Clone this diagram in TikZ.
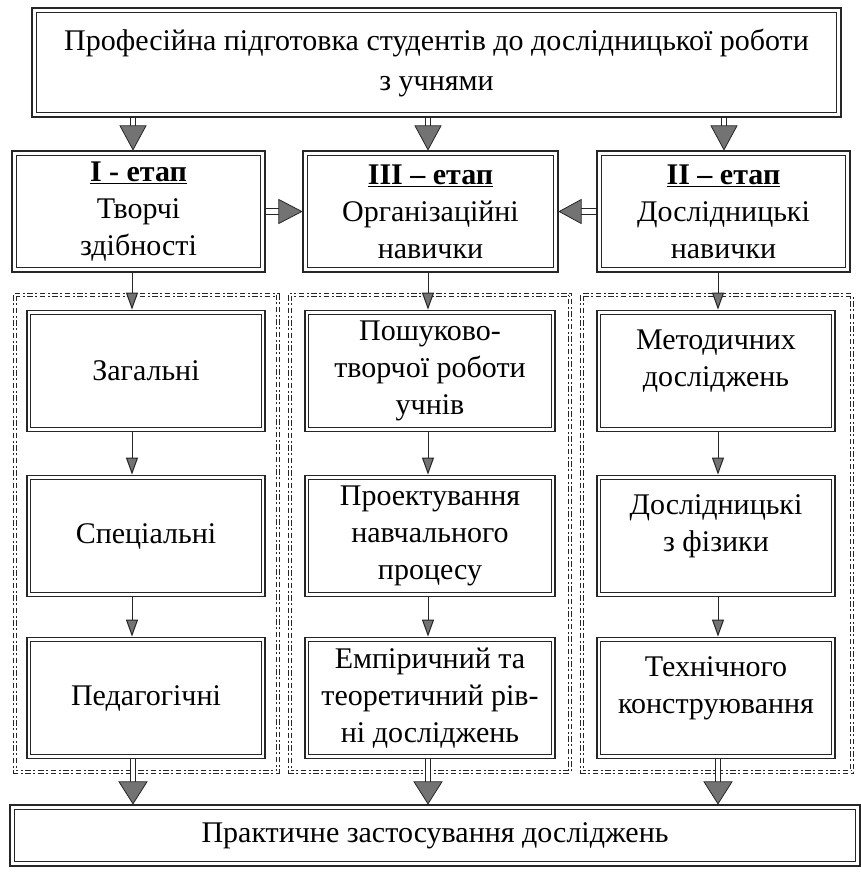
\documentclass[tikz,border=0pt]{standalone}
\usepackage{fontspec}
\setmainfont{Liberation Serif}
\usetikzlibrary{calc,arrows.meta}
\begin{document}
\begin{tikzpicture}[x=1pt,y=-1pt,
  txt/.style={font=\fontsize{30}{37}\selectfont, align=center, inner sep=0pt},
  bigbox/.style={txt, draw=black!85, line width=2.4pt},
  smallbox/.style={txt, draw=black!85, line width=1.8pt},
  innerline/.style={draw=black!85, line width=0.9pt},
  dashbox/.style={draw=black!85, line width=1.1pt, double=white, double distance=2pt,
    dash pattern=on 5.5pt off 2.5pt on 2pt off 2.5pt},
  shaft/.style={draw=black!85, line width=0.9pt, double=white, double distance=4.5pt},
  headfill/.style={fill=black!55, draw=black!85, line width=0.8pt, line join=miter},
  thinarrow/.style={draw=black!85, line width=1pt,
    -{Triangle[length=17pt,width=12pt,fill=black!55]}}
]
\useasboundingbox (0,0) rectangle (861,881);

% top box
\node[bigbox, minimum width=809pt, minimum height=109pt,
      font=\fontsize{30}{40}\selectfont] (top) at (436.5,62.5)
  {Професійна підготовка студентів до дослідницької роботи\\з учнями};

% stage boxes
\node[bigbox, minimum width=253pt, minimum height=121pt] (s1) at (138.5,211.5)
  {\underline{\textbf{I - етап}}\\Творчі\\здібності};
\node[bigbox, minimum width=255pt, minimum height=121pt] (s3) at (430.5,211.5)
  {\underline{\textbf{III – етап}}\\Організаційні\\навички};
\node[bigbox, minimum width=253pt, minimum height=121pt] (s2) at (723.5,211.5)
  {\underline{\textbf{II – етап}}\\Дослідницькі\\навички};

% dash-dot group frames
\draw[dashbox] (15,295) rectangle (278,772);
\draw[dashbox] (290,295) rectangle (570,772);
\draw[dashbox] (582,295) rectangle (852,772);

% inner boxes
\node[smallbox, minimum width=238pt, minimum height=121pt] (a1) at (146,371) {Загальні};
\node[smallbox, minimum width=238pt, minimum height=121pt] (a2) at (146,536) {Спеціальні};
\node[smallbox, minimum width=238pt, minimum height=121pt] (a3) at (146,698) {Педагогічні};
\node[smallbox, minimum width=250pt, minimum height=121pt] (b1) at (430,371) {Пошуково-\\творчої роботи\\учнів};
\node[smallbox, minimum width=250pt, minimum height=121pt] (b2) at (430,536) {Проектування\\навчального\\процесу};
\node[smallbox, minimum width=250pt, minimum height=121pt] (b3) at (430,698) {Емпіричний та\\теоретичний рів-\\ні досліджень};
\node[smallbox, minimum width=238pt, minimum height=121pt] (c1) at (716,371) {Методичних\\досліджень\\[-12pt]\mbox{}};
\node[smallbox, minimum width=238pt, minimum height=121pt] (c2) at (716,536) {Дослідницькі\\з фізики\\[-12pt]\mbox{}};
\node[smallbox, minimum width=238pt, minimum height=121pt] (c3) at (716,698) {Технічного\\конструювання\\[-12pt]\mbox{}};

% bottom box
\node[bigbox, minimum width=850pt, minimum height=61pt] (bot) at (435,835.5)
  {Практичне застосування досліджень};

% inner frame lines
\foreach \n in {top,s1,s2,s3,bot}
  \draw[innerline] ([shift={(5.5,5.5)}]\n.north west) rectangle ([shift={(-5.5,-5.5)}]\n.south east);
\foreach \n in {a1,a2,a3,b1,b2,b3,c1,c2,c3}
  \draw[innerline] ([shift={(4.5,4.5)}]\n.north west) rectangle ([shift={(-4.5,-4.5)}]\n.south east);

% x positions of arrows
\coordinate (xl) at (133,0);
\coordinate (xm) at (428,0);
\coordinate (xr) at (724,0);
\coordinate (xl2) at (132,0);
\coordinate (xr2) at (718,0);

% big down arrows from top box
\foreach \s/\x in {s1/xl,s3/xm,s2/xr}{
  \draw[shaft] (top.south -| \x) -- ($(\s.north -| \x)+(0,-22)$);
  \draw[headfill] (\s.north -| \x) -- ++(-13,-24) -- ++(26,0) -- cycle;
}

% horizontal arrows into the middle stage
\draw[shaft] (s1.east) -- ($(s3.west)+(-22,0)$);
\draw[headfill] (s3.west) -- ++(-23,-12) -- ++(0,24) -- cycle;
\draw[shaft] (s2.west) -- ($(s3.east)+(20,0)$);
\draw[headfill] (s3.east) -- ++(22,-12) -- ++(0,24) -- cycle;

% thin arrows in columns
\draw[thinarrow] (s1.south -| xl2) -- (a1.north -| xl2);
\draw[thinarrow] (a1.south -| xl2) -- (a2.north -| xl2);
\draw[thinarrow] (a2.south -| xl2) -- (a3.north -| xl2);
\draw[thinarrow] (s3.south -| xm) -- (b1.north -| xm);
\draw[thinarrow] (b1.south -| xm) -- (b2.north -| xm);
\draw[thinarrow] (b2.south -| xm) -- (b3.north -| xm);
\draw[thinarrow] (s2.south -| xr2) -- (c1.north -| xr2);
\draw[thinarrow] (c1.south -| xr2) -- (c2.north -| xr2);
\draw[thinarrow] (c2.south -| xr2) -- (c3.north -| xr2);

% big down arrows into the bottom box
\foreach \s/\x in {a3/xl,b3/xm,c3/xr2}{
  \draw[shaft] (\s.south -| \x) -- ($(bot.north -| \x)+(0,-20)$);
  \draw[headfill] (bot.north -| \x) -- ++(-14,-22) -- ++(28,0) -- cycle;
}
\end{tikzpicture}
\end{document}
